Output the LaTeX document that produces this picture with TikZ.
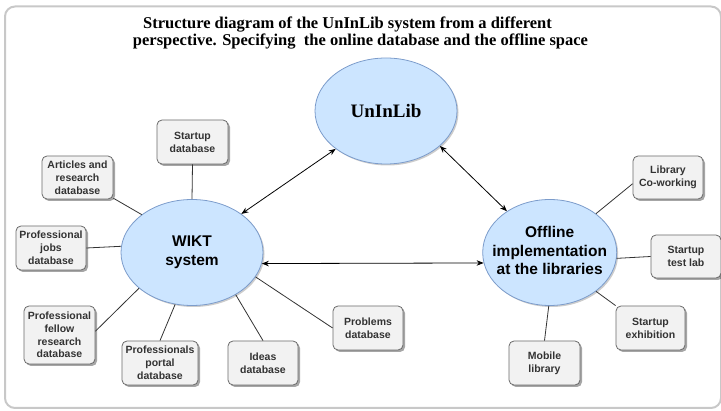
\documentclass[tikz,border=0pt]{standalone}
\usepackage{fontspec}
\setmainfont{Liberation Sans}
\newfontfamily\titlefont{Liberation Serif}
\usetikzlibrary{shapes.geometric,arrows.meta,shadows}
\definecolor{ellfill}{HTML}{CCE5FF}
\definecolor{elldraw}{HTML}{7C9CCB}
\definecolor{boxfill}{HTML}{F2F2F2}
\definecolor{boxdraw}{HTML}{6A6A6A}
\definecolor{boxtext}{HTML}{333333}
\definecolor{framecol}{HTML}{C8C8C8}
\definecolor{linkcol}{HTML}{333333}
\begin{document}
\begin{tikzpicture}[x=1pt,y=-1pt,
  dbbox/.style={draw=boxdraw, fill=boxfill, rounded corners=5pt, line width=0.8pt,
    minimum width=70pt, minimum height=44pt, inner sep=1pt, align=center, text=boxtext,
    font=\fontsize{10.5}{12.8}\selectfont\bfseries,
    drop shadow={shadow xshift=2pt, shadow yshift=-2pt, opacity=0.35, fill=black}},
  hub/.style={ellipse, draw=elldraw, fill=ellfill, line width=0.8pt,
    minimum width=142pt, minimum height=106pt, inner sep=0pt,
    drop shadow={shadow xshift=1.5pt, shadow yshift=-1.5pt, opacity=0.2, fill=black}},
  hubtext/.style={align=center, text=black, font=\fontsize{15.5}{18.6}\selectfont\bfseries},
  titletext/.style={anchor=base, inner sep=0pt, font=\titlefont\fontsize{16.5}{17}\selectfont\bfseries},
  link/.style={draw=linkcol, line width=0.8pt},
  biarrow/.style={draw=black, line width=0.8pt,
    {Stealth[length=7pt,width=5.5pt]}-{Stealth[length=7pt,width=5.5pt]}},
]
\useasboundingbox (0,0) rectangle (721,411);
\draw[framecol, line width=2pt, rounded corners=10pt] (5,6.5) rectangle (721,408);

% title
\node[titletext] (t1) at (347.5,28.7) {Structure diagram of the UnInLib system from a different};
\node[titletext] (t2) at (360.5,45.5) {perspective. Specifying\ \ the online database and the offline space};

% hubs
\node[hub, label={[font=\titlefont\fontsize{19}{22}\selectfont\bfseries]center:UnInLib}] (unin) at (386,111) {};
\node[hub, label={[hubtext]center:WIKT\\system}] (wikt) at (192,252.5) {};
\node[hub, minimum width=134pt, label={[hubtext, yshift=2pt]center:Offline\\implementation\\at the libraries}] (offline) at (549.7,252.5) {};

% database boxes
\node[dbbox, minimum width=71pt] (startup) at (192.5,142) {Startup\\database};
\node[dbbox, minimum width=71pt, minimum height=43pt] (articles) at (77.5,177.5) {Articles and\\research\\database};
\node[dbbox] (jobs) at (51,248) {Professional\\jobs\\database};
\node[dbbox, minimum width=71pt, minimum height=58pt] (fellow) at (59.5,335) {Professional\\fellow\\research\\database};
\node[dbbox, minimum width=76pt] (portal) at (160,363) {Professionals\\portal\\database};
\node[dbbox] (ideas) at (263,363) {Ideas\\database};
\node[dbbox] (problems) at (368,328) {Problems\\database};

% offline boxes
\node[dbbox, minimum height=43pt] (cowork) at (668,177.5) {Library\\Co-working};
\node[dbbox, minimum height=43pt] (testlab) at (686,256.5) {Startup\\test lab};
\node[dbbox, minimum width=69pt] (exhib) at (650.5,328) {Startup\\exhibition};
\node[dbbox, minimum width=71pt] (mobile) at (544.5,363) {Mobile\\library};

% WIKT links
\draw[link] (startup.south) -- (wikt.north);
\draw[link] (articles.-30) -- (wikt.143);
\draw[link] (jobs.east) -- (wikt.175);
\draw[link] (fellow.6) -- (wikt.214);
\draw[link] (portal.north) -- (wikt.252);
\draw[link] (ideas.north) -- (wikt.316);
\draw[link] (wikt.-21.5) -- (problems.west);

% main arrows
\draw[biarrow] (wikt.38) -- (unin.217);
\draw[biarrow] (unin.-33) -- (offline.136);
\draw[biarrow] (wikt.-9) -- (offline.189.1);

% offline links
\draw[link] (offline.40) -- (cowork.190);
\draw[link] (offline.-5) -- (testlab.west);
\draw[link] (offline.-40) -- (exhib.north west);
\draw[link] (offline.269) -- (mobile.north);
\end{tikzpicture}
\end{document}
